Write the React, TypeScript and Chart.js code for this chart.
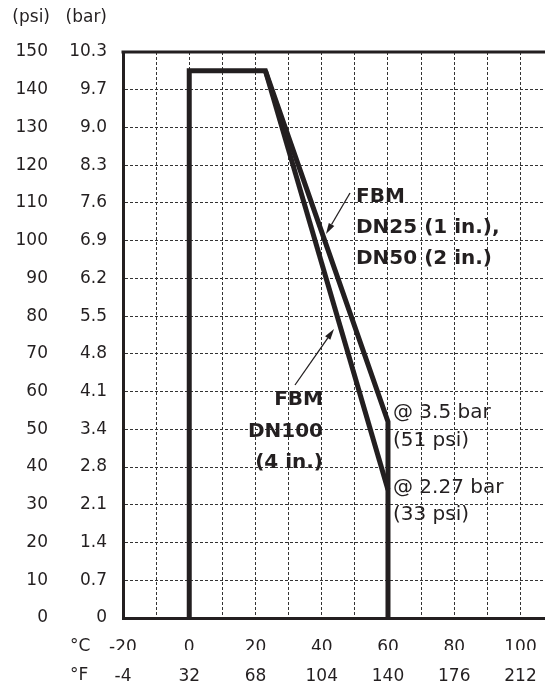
import React, { useEffect, useRef } from 'react';
import { Chart, registerables } from 'chart.js';

Chart.register(...registerables);

// ---- data ----
const celsiusTicks = [-20, 0, 20, 40, 60, 80, 100];
const fahrenheitTicks = ['-4', '32', '68', '104', '140', '176', '212'];
const psiTicks = [0, 10, 20, 30, 40, 50, 60, 70, 80, 90, 100, 110, 120, 130, 140, 150];
const barTicks = ['0', '0.7', '1.4', '2.1', '2.8', '3.4', '4.1', '4.8', '5.5', '6.2', '6.9', '7.6', '8.3', '9.0', '9.7', '10.3'];

// DN25 / DN50 envelope (°C, psi)
const dn25Temp = [0, 0, 23, 60, 60];
const dn25Psi = [0, 145, 145, 52, 0];
// DN100 derating line (°C, psi)
const dn100Temp = [23, 60];
const dn100Psi = [145, 34];

const INK = '#231f20';
const FONT = "'DejaVu Sans', sans-serif";

function drawArrow(ctx: CanvasRenderingContext2D, x1: number, y1: number, x2: number, y2: number) {
  const ang = Math.atan2(y2 - y1, x2 - x1);
  const len = 11;
  const half = 3.2;
  const bx = x2 - len * Math.cos(ang);
  const by = y2 - len * Math.sin(ang);
  ctx.beginPath();
  ctx.moveTo(x1, y1);
  ctx.lineTo(bx, by);
  ctx.lineWidth = 1.3;
  ctx.strokeStyle = INK;
  ctx.stroke();
  ctx.beginPath();
  ctx.moveTo(x2, y2);
  ctx.lineTo(bx + half * Math.sin(ang), by - half * Math.cos(ang));
  ctx.lineTo(bx - half * Math.sin(ang), by + half * Math.cos(ang));
  ctx.closePath();
  ctx.fillStyle = INK;
  ctx.fill();
}

const overlay = {
  id: 'overlay',
  afterDraw(chart: any) {
    const ctx: CanvasRenderingContext2D = chart.ctx;
    const { left, right, top } = chart.chartArea;
    ctx.save();
    // top frame line
    ctx.strokeStyle = INK;
    ctx.lineWidth = 3;
    ctx.beginPath();
    ctx.moveTo(left - 1.5, top);
    ctx.lineTo(right, top);
    ctx.stroke();

    ctx.fillStyle = INK;
    ctx.textBaseline = 'middle';
    // axis headers
    ctx.font = `17px ${FONT}`;
    ctx.textAlign = 'right';
    ctx.fillText('(psi)', 50, 18);
    ctx.fillText('(bar)', 107, 18);
    ctx.textAlign = 'left';
    ctx.fillText('°C', 70, 647);
    ctx.fillText('°F', 70, 676);

    // annotations
    ctx.font = `bold 20px ${FONT}`;
    ctx.textAlign = 'left';
    ctx.fillText('FBM', 356, 197);
    ctx.fillText('DN25 (1 in.),', 356, 228);
    ctx.fillText('DN50 (2 in.)', 356, 259);
    ctx.textAlign = 'right';
    ctx.fillText('FBM', 323, 400);
    ctx.fillText('DN100', 323, 432);
    ctx.fillText('(4 in.)', 323, 463);

    ctx.font = `20px ${FONT}`;
    ctx.textAlign = 'left';
    ctx.fillText('@ 3.5 bar', 393, 413);
    ctx.fillText('(51 psi)', 393, 441);
    ctx.fillText('@ 2.27 bar', 393, 488);
    ctx.fillText('(33 psi)', 393, 515);

    drawArrow(ctx, 350, 193, 326, 234);
    drawArrow(ctx, 295, 385, 334, 329);
    ctx.restore();
  },
};

export default function App() {
  const ref = useRef<HTMLCanvasElement>(null);

  useEffect(() => {
    document.body.style.margin = '0';
    const lineDs = (xs: number[], ys: number[]) => ({
      data: xs.map((x, i) => ({ x, y: ys[i] })),
      showLine: true,
      borderColor: INK,
      borderWidth: 5,
      pointRadius: 0,
      fill: false,
      tension: 0,
      borderJoinStyle: 'miter' as const,
      borderCapStyle: 'butt' as const,
    });

    const gridDash = { dash: [3, 2] };
    const noHPad = (s: any) => { s.paddingLeft = 0; s.paddingRight = 0; };

    const chart = new Chart(ref.current!, {
      type: 'scatter',
      data: {
        datasets: [lineDs(dn25Temp, dn25Psi), lineDs(dn100Temp, dn100Psi)],
      },
      options: {
        responsive: false,
        animation: false,
        layout: { padding: { left: 0, right: 0, top: 52, bottom: 0 } },
        plugins: { legend: { display: false }, tooltip: { enabled: false } },
        scales: {
          x: {
            type: 'linear',
            position: 'bottom',
            min: -20,
            max: 107.4,
            afterFit: (s: any) => { s.height = 32; noHPad(s); },
            ticks: {
              stepSize: 10,
              includeBounds: false,
              autoSkip: false,
              maxRotation: 0,
              padding: 19,
              color: INK,
              font: { family: FONT, size: 17 },
              callback: (v: any) => (celsiusTicks.includes(v) ? String(v) : ''),
            },
            grid: { color: '#333', lineWidth: 1, drawTicks: false },
            border: { display: true, color: INK, width: 3, ...gridDash },
          },
          x2: {
            type: 'linear',
            position: 'bottom',
            min: -20,
            max: 107.4,
            afterFit: (s: any) => { s.height = 35; noHPad(s); },
            ticks: {
              stepSize: 10,
              includeBounds: false,
              autoSkip: false,
              maxRotation: 0,
              padding: 16,
              color: INK,
              font: { family: FONT, size: 17 },
              callback: (v: any) => {
                const i = celsiusTicks.indexOf(v);
                return i >= 0 ? fahrenheitTicks[i] : '';
              },
            },
            grid: { display: false, drawTicks: false },
            border: { display: false },
          },
          yBar: {
            type: 'linear',
            position: 'left',
            min: 0,
            max: 150,
            afterFit: (s: any) => { s.width = 63; },
            ticks: {
              stepSize: 10,
              autoSkip: false,
              padding: 16,
              color: INK,
              font: { family: FONT, size: 17 },
              callback: (v: any) => {
                const i = psiTicks.indexOf(v);
                return i >= 0 ? barTicks[i] : '';
              },
            },
            grid: { color: '#333', lineWidth: 1, drawTicks: false },
            border: { display: true, color: INK, width: 3, ...gridDash },
          },
          y: {
            type: 'linear',
            position: 'left',
            min: 0,
            max: 150,
            afterFit: (s: any) => { s.width = 60; },
            ticks: {
              stepSize: 10,
              autoSkip: false,
              padding: 12,
              color: INK,
              font: { family: FONT, size: 17 },
              callback: (v: any) => (psiTicks.includes(v) ? String(v) : ''),
            },
            grid: { display: false, drawTicks: false },
            border: { display: false },
          },
        },
      },
      plugins: [overlay],
    } as any);
    return () => chart.destroy();
  }, []);

  return (
    <div style={{ width: 545, height: 685 }}>
      <canvas ref={ref} width={545} height={685} style={{ width: 545, height: 685, display: 'block' }} />
    </div>
  );
}
